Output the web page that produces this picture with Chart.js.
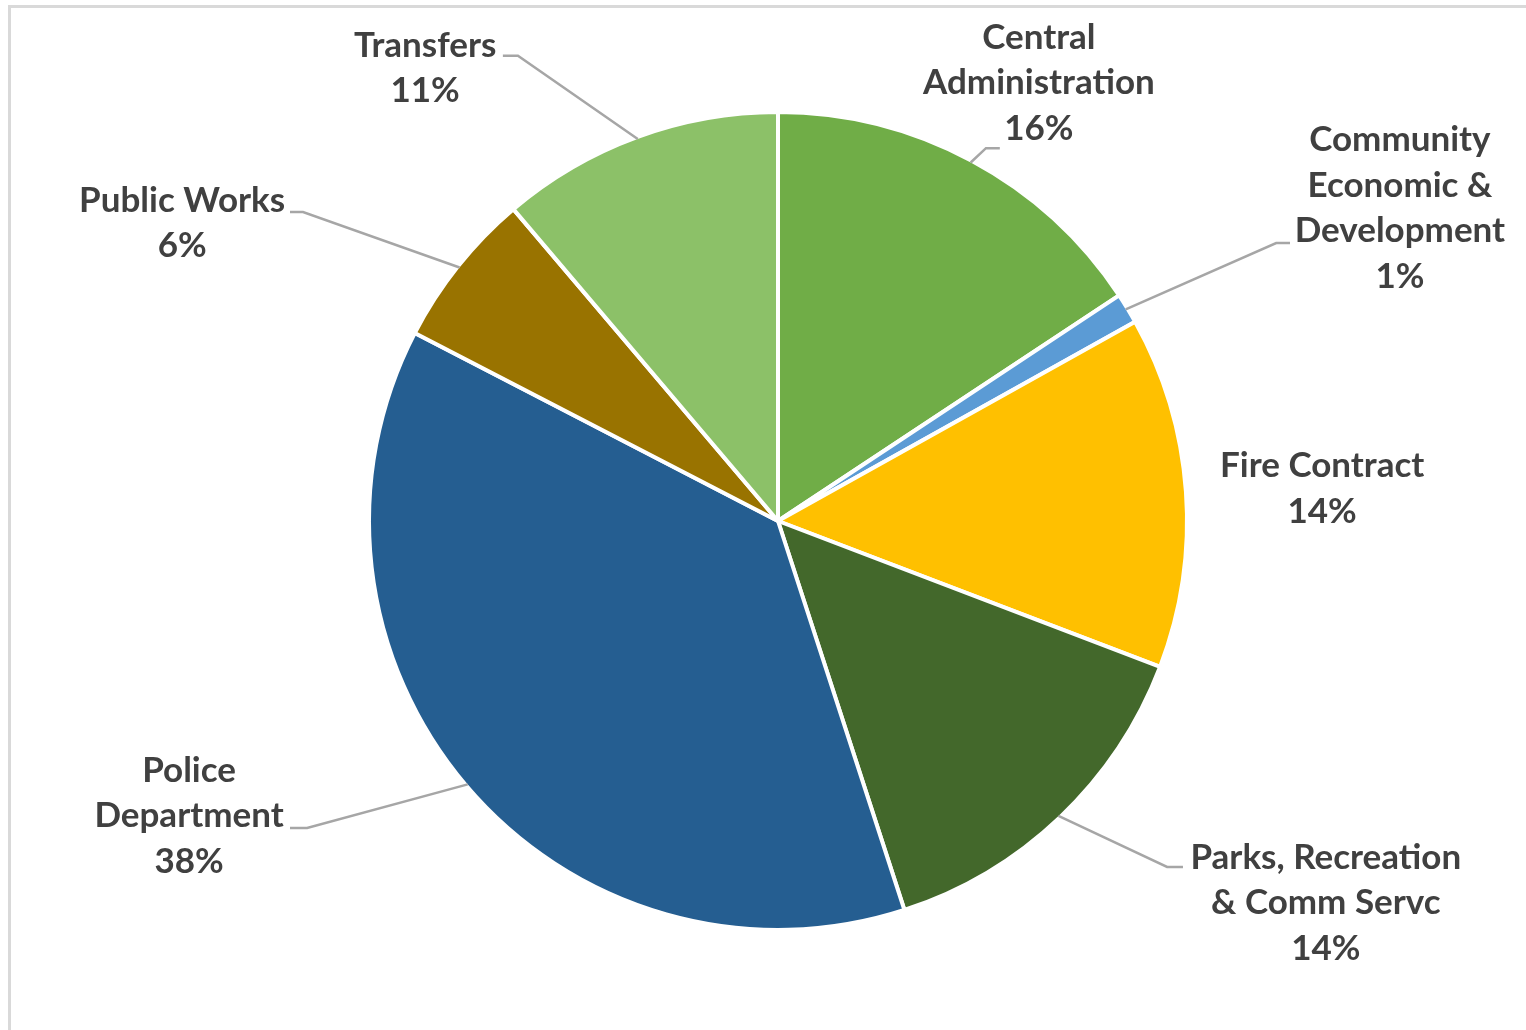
<!DOCTYPE html>
<html>
<head>
<meta charset="utf-8">
<script src="https://cdn.jsdelivr.net/npm/chart.js@4.4.1/dist/chart.umd.min.js"></script>
<style>
  html, body { margin: 0; padding: 0; background: #fff; }
  #wrap { width: 1526px; height: 1030px; }
</style>
</head>
<body>
<div id="wrap"><canvas id="pieChart" width="1526" height="1030"></canvas></div>
<script>
// chart data
const categories = [
    ['Central', 'Administration'],
    ['Community', 'Economic &', 'Development'],
    ['Fire Contract'],
    ['Parks, Recreation', '& Comm Servc'],
    ['Police', 'Department'],
    ['Public Works'],
    ['Transfers']
];
const shares = [15.7, 1.2, 13.9, 14.2, 37.6, 6.2, 11.2];
const colors = ['#70AD47', '#5B9BD5', '#FFC000', '#43682B', '#255E91', '#997300', '#8CC168'];

// where each label sits, in units of the pie radius from its centre
// pos = label block centre, line = [elbow, end] of the leader line
const labelLayout = [
    { pos: [0.641, -1.076], line: [[0.511, -0.916], [0.545, -0.916]] },
    { pos: [1.528, -0.769], line: [[1.224, -0.683], [1.258, -0.683]] },
    { pos: [1.337, -0.079], line: null },
    { pos: [1.346, 0.939],  line: [[0.956, 0.850], [0.995, 0.850]] },
    { pos: [-1.447, 0.725], line: [[-1.157, 0.754], [-1.199, 0.754]] },
    { pos: [-1.464, -0.732], line: [[-1.167, -0.759], [-1.199, -0.759]] },
    { pos: [-0.867, -1.113], line: [[-0.639, -1.143], [-0.676, -1.143]] }
];

const total = shares.reduce((a, b) => a + b, 0);

const frame = {
    id: 'frame',
    beforeDraw(chart) {
        const c = chart.ctx;
        c.save();
        c.strokeStyle = '#D9D9D9';
        c.lineWidth = 3;
        c.strokeRect(9.5, 6.5, 1540, 1040);
        c.restore();
    }
};

const outsideLabels = {
    id: 'outsideLabels',
    afterDatasetsDraw(chart) {
        const c = chart.ctx;
        const meta = chart.getDatasetMeta(0);
        c.save();
        meta.data.forEach((arc, i) => {
            const r = arc.outerRadius - 2;
            const cx = arc.x, cy = arc.y;
            const lay = labelLayout[i];
            if (lay.line) {
                const mid = (arc.startAngle + arc.endAngle) / 2;
                c.beginPath();
                c.strokeStyle = '#A6A6A6';
                c.lineWidth = 2.5;
                c.moveTo(cx + Math.cos(mid) * r, cy + Math.sin(mid) * r);
                lay.line.forEach(p => c.lineTo(cx + p[0] * r, cy + p[1] * r));
                c.stroke();
            }
            const lines = categories[i].concat([Math.round(shares[i] / total * 100) + '%']);
            const lh = 45.5;
            const lx = cx + lay.pos[0] * r;
            const ly = cy + lay.pos[1] * r - (lines.length - 1) * lh / 2;
            c.fillStyle = '#404040';
            c.font = 'bold 35px Lato, "Open Sans", sans-serif';
            c.textAlign = 'center';
            c.textBaseline = 'middle';
            lines.forEach((t, k) => c.fillText(t, lx, ly + k * lh));
        });
        c.restore();
    }
};

const ctx = document.getElementById('pieChart').getContext('2d');
new Chart(ctx, {
    type: 'pie',
    data: {
        labels: categories,
        datasets: [{
            data: shares,
            backgroundColor: colors,
            borderColor: '#FFFFFF',
            borderWidth: 4,
            radius: 409
        }]
    },
    options: {
        responsive: false,
        animation: false,
        layout: { padding: { left: 30, right: 0, top: 12, bottom: 0 } },
        plugins: {
            legend: { display: false },
            tooltip: { enabled: false }
        }
    },
    plugins: [frame, outsideLabels]
});
</script>
</body>
</html>
